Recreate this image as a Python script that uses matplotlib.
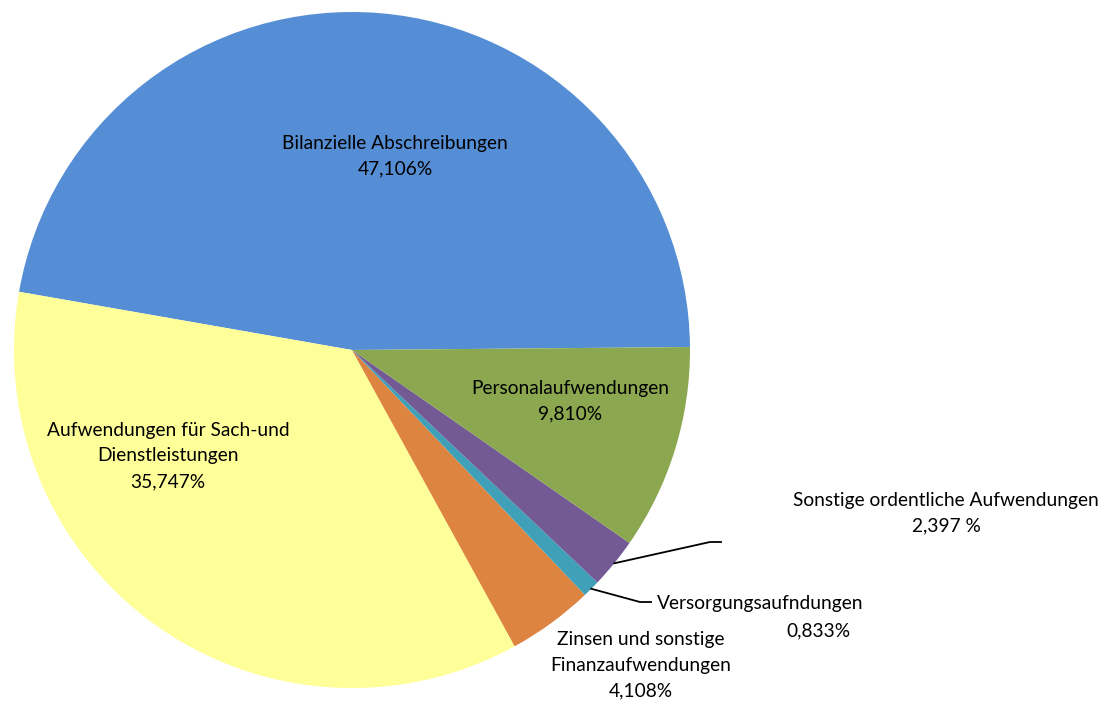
import numpy as np
import matplotlib
matplotlib.use("Agg")
import matplotlib.pyplot as plt

plt.rcParams['font.family'] = ['Lato', 'DejaVu Sans']

# Daten (Anteile in %)
kategorien = ['Bilanzielle Abschreibungen', 'Aufwendungen für Sach-und\nDienstleistungen',
              'Zinsen und sonstige\nFinanzaufwendungen', 'Versorgungsaufndungen',
              'Sonstige ordentliche Aufwendungen', 'Personalaufwendungen']
anteile = [47.106, 35.747, 4.108, 0.833, 2.397, 9.810]
beschriftung = ['47,106%', '35,747%', '4,108%', '0,833%', '2,397 %', '9,810%']
farben = ['#558ED5', '#FFFF99', '#DD8441', '#3FA0B8', '#735A94', '#8BA74F']

W, H = 1108, 703
CX, CY, R = 352, 350, 338

fig = plt.figure(figsize=(W / 100, H / 100), dpi=100)
ax = fig.add_axes([(CX - R) / W, (H - CY - R) / H, 2 * R / W, 2 * R / H])

wedges, _ = ax.pie(anteile, colors=farben, startangle=0.5, counterclock=True,
                   radius=1, center=(0, 0), wedgeprops=dict(linewidth=0))
ax.set_xlim(-1, 1)
ax.set_ylim(-1, 1)
ax.set_aspect('equal')
ax.axis('off')


def px(x, y):
    # pixel (von oben links) -> Datenkoordinaten
    return (x - CX) / R, (CY - y) / R


fs = 13.8
def txt(x, y, s, **kw):
    ax.text(*px(x, y), s, ha='center', va='center', fontsize=fs,
            linespacing=1.62, clip_on=False, **kw)

txt(395, 156, kategorien[0] + '\n' + beschriftung[0])
txt(168, 456, kategorien[1] + '\n' + beschriftung[1])
txt(641, 665, kategorien[2] + '\n' + beschriftung[2])
txt(570, 401, kategorien[5] + '\n' + beschriftung[5])
txt(946, 513, kategorien[4] + '\n' + beschriftung[4])
ax.text(*px(657, 603), kategorien[3], ha='left', va='center', fontsize=fs, clip_on=False)
txt(818, 631, beschriftung[3])


def rand(w):
    ang = np.deg2rad((w.theta1 + w.theta2) / 2)
    return np.cos(ang), np.sin(ang)

# Führungslinien
p0 = rand(wedges[4])
ax.plot([p0[0], px(710, 542)[0], px(721, 542)[0]],
        [p0[1], px(710, 542)[1], px(721, 542)[1]],
        color='black', lw=1.3, clip_on=False)
p1 = rand(wedges[3])
ax.plot([p1[0], px(640, 602)[0], px(651, 602)[0]],
        [p1[1], px(640, 602)[1], px(651, 602)[1]],
        color='black', lw=1.3, clip_on=False)

fig.savefig('out.png', dpi=100)
